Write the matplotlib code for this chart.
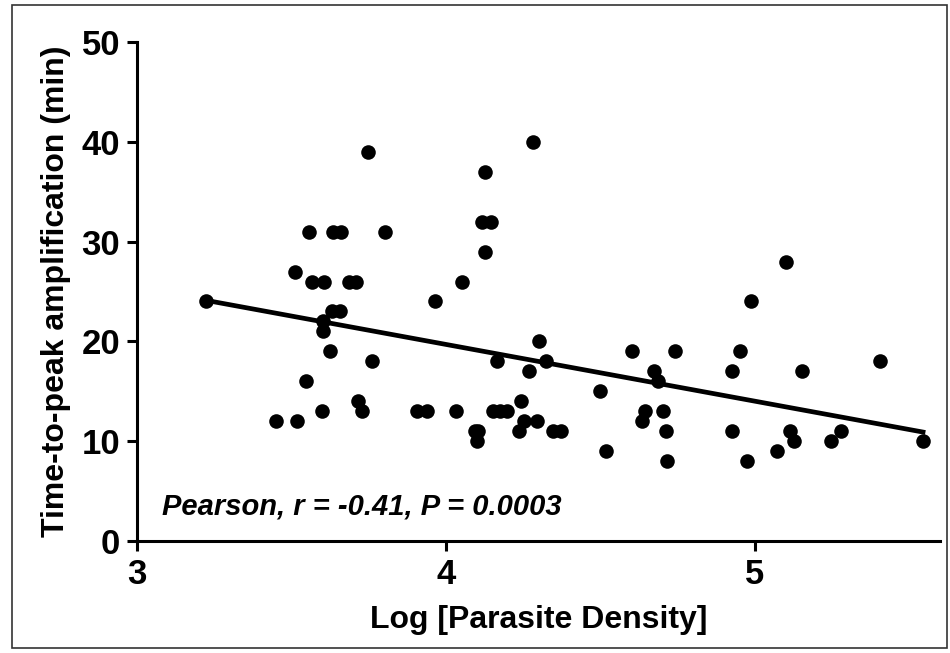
import numpy as np
import matplotlib
matplotlib.use("Agg")
import matplotlib.pyplot as plt
from matplotlib.patches import Rectangle

plt.rcParams["font.family"] = ["Liberation Sans", "DejaVu Sans"]
plt.rcParams["font.weight"] = "bold"

# log parasite density vs time-to-peak amplification (min)
log_density = [
    3.223, 3.450, 3.517, 3.512, 3.546, 3.557, 3.566, 3.600, 3.603, 3.603,
    3.606, 3.625, 3.630, 3.657, 3.636, 3.660, 3.686, 3.709, 3.716, 3.727,
    3.749, 3.762, 3.803, 3.905, 3.939, 3.964, 4.032, 4.051, 4.095, 4.105,
    4.101, 4.117, 4.146, 4.126, 4.126, 4.153, 4.175, 4.198, 4.164, 4.237,
    4.242, 4.254, 4.270, 4.283, 4.295, 4.301, 4.323, 4.347, 4.372, 4.498,
    4.520, 4.604, 4.635, 4.644, 4.675, 4.688, 4.703, 4.712, 4.716, 4.743,
    4.928, 4.928, 4.951, 4.975, 4.987, 5.073, 5.102, 5.113, 5.127, 5.153,
    5.246, 5.280, 5.407, 5.545,
]
time_to_peak = [
    24, 12, 12, 27, 16, 31, 26, 13, 22, 21,
    26, 19, 23, 23, 31, 31, 26, 26, 14, 13,
    39, 18, 31, 13, 13, 24, 13, 26, 11, 11,
    10, 32, 32, 37, 29, 13, 13, 13, 18, 11,
    14, 12, 17, 40, 12, 20, 18, 11, 11, 15,
    9, 19, 12, 13, 17, 16, 13, 11, 8, 19,
    17, 11, 19, 8, 24, 9, 28, 11, 10, 17,
    10, 11, 18, 10,
]
x_ticks = [3, 4, 5]
y_ticks = [0, 10, 20, 30, 40, 50]
stats_text = "Pearson, r = -0.41, P = 0.0003"

x = np.array(log_density)
y = np.array(time_to_peak)
slope, intercept = np.polyfit(x, y, 1)

fig = plt.figure(figsize=(9.5, 6.53), dpi=100)
ax = fig.add_axes([0.1442, 0.1715, 0.8453, 0.7642])

ax.scatter(x, y, s=110, color="black", zorder=3, linewidths=0)
xf = np.array([x.min(), x.max()])
ax.plot(xf, slope * xf + intercept, color="black", lw=3.4, zorder=2)

ax.set_xlim(3, 5.6)
ax.set_ylim(0, 50)
ax.set_xticks(x_ticks)
ax.set_yticks(y_ticks)
ax.spines["top"].set_visible(False)
ax.spines["right"].set_visible(False)
for s in ("left", "bottom"):
    ax.spines[s].set_linewidth(2.2)
ax.tick_params(width=2.2, length=7, labelsize=25, pad=5)
for lab in ax.get_xticklabels() + ax.get_yticklabels():
    lab.set_fontweight("bold")

ax.set_xlabel("Log [Parasite Density]", fontsize=23, fontweight="bold", labelpad=10)
ax.set_ylabel("Time-to-peak amplification (min)", fontsize=23, fontweight="bold", labelpad=8)

ax.text(3.08, 2.7, stats_text, fontsize=21, fontweight="bold", fontstyle="italic")

fig.patches.append(Rectangle((12 / 950, 5 / 653), 935 / 950, 643 / 653,
                             transform=fig.transFigure, fill=False,
                             edgecolor="#333333", lw=1.2))

fig.savefig("out.png", dpi=100)
